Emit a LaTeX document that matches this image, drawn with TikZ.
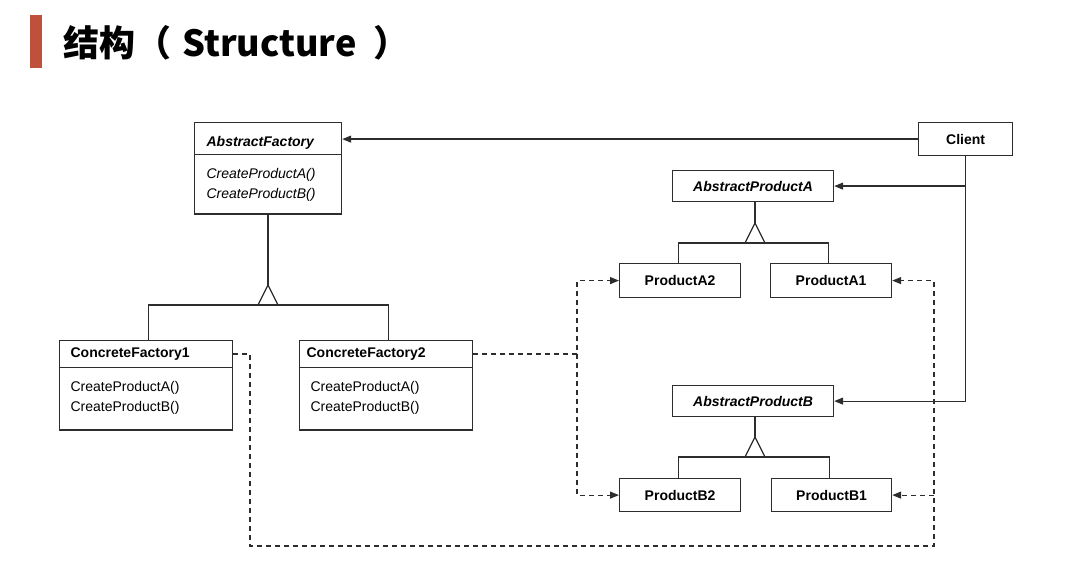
\documentclass[tikz,border=0pt]{standalone}
\usepackage{fontspec}
\setmainfont{Liberation Sans}
\newfontfamily\cjk{Noto Sans CJK SC}
\usetikzlibrary{shapes.multipart,arrows.meta}

\definecolor{titlered}{RGB}{190,80,60}
\definecolor{umlgray}{RGB}{45,45,45}
\newcommand{\vpad}[2]{\rule[-#2pt]{0pt}{\dimexpr#1pt+#2pt\relax}}

\tikzset{
  classbox/.style={draw=umlgray, line width=1.2pt, rectangle split, rectangle split parts=2,
    anchor=north west, inner ysep=0pt, align=left, font=\fontsize{14}{20}\selectfont},
  namebox/.style={draw=umlgray, line width=1.2pt, anchor=north west, inner sep=0pt,
    font=\fontsize{14}{17}\selectfont\bfseries},
  gen/.style={draw=umlgray, line width=1.2pt},
  assoc/.style={gen, -{Triangle[length=9pt,width=7pt]}},
  dep/.style={assoc, dash pattern=on 5pt off 4pt},
}

\begin{document}
\begin{tikzpicture}[x=1pt,y=-1pt]
    \pgfmathsetmacro{\trih}{20}
    \pgfmathsetmacro{\trihw}{10}
    \useasboundingbox (0,0) rectangle (1081,569);
    % title
    \fill[titlered] (30,15) rectangle (42,68);
    \node[anchor=base west, inner sep=0pt, font=\cjk\bfseries] (title) at (63,57)
    {{\fontsize{36}{40}\selectfont 结构（}\hspace{11pt}{\fontsize{36}{40}\selectfont Structure}\hspace{17pt}{\fontsize{36}{40}\selectfont ）}};
    % factories
    \node[classbox, inner xsep=12pt, text width=123pt] (af) at (194,122)
    {\vpad{23}{8}\textbf{\textit{AbstractFactory}}
     \nodepart{two}\vpad{23}{0}\textit{CreateProductA()}\\\textit{CreateProductB()}\vpad{0}{15}};
    \node[classbox, inner xsep=11pt, text width=151pt] (cf1) at (59,340)
    {\vpad{16}{10}\textbf{ConcreteFactory1}
     \nodepart{two}\vpad{23}{0}CreateProductA()\\CreateProductB()\vpad{0}{18}};
    \node[classbox, inner xsep=7pt, text width=159pt] (cf2) at (299,340)
    {\vpad{16}{10}\textbf{ConcreteFactory2}
     \nodepart{two}\vpad{23}{0}\hspace*{4pt}CreateProductA()\\\hspace*{4pt}CreateProductB()\vpad{0}{18}};
    % client and products
    \node[namebox, minimum width=94pt, minimum height=33pt] (client) at (918,122) {Client};
    \node[namebox, minimum width=161pt, minimum height=31pt] (apa) at (672,170) {\textit{AbstractProductA}};
    \node[namebox, minimum width=121pt, minimum height=34pt] (pa2) at (619,263) {ProductA2};
    \node[namebox, minimum width=121pt, minimum height=34pt] (pa1) at (770,263) {ProductA1};
    \node[namebox, minimum width=161pt, minimum height=31pt] (apb) at (672,385) {\textit{AbstractProductB}};
    \node[namebox, minimum width=121pt, minimum height=33pt] (pb2) at (619,478) {ProductB2};
    \node[namebox, minimum width=120pt, minimum height=33pt] (pb1) at (771,478) {ProductB1};
    % inheritance
    \coordinate (fj) at (268,305);
    \coordinate (aj) at (755,243);
    \coordinate (bj) at (755,457);
    \foreach \base/\subl/\subr/\j/\dl/\dr in {af/cf1/cf2/fj/2.5/2.5, apa/pa2/pa1/aj/-1.5/-2.5, apb/pb2/pb1/bj/-1.5/-2.5}{
        \draw[gen] (\j |- \base.south) -- ([yshift=\trih pt]\j);
        \draw[gen] ([xshift=-\trihw pt]\j) -- ([yshift=\trih pt]\j) -- ([xshift=\trihw pt]\j);
        \draw[gen] ([xshift=\dl pt]\subl.north) -- ([xshift=\dl pt]\subl.north |- \j)
            -- ([xshift=\dr pt]\subr.north |- \j) -- ([xshift=\dr pt]\subr.north);
    }
    % client associations
    \draw[assoc] (client.west) -- (client.west -| af.east);
    \draw[assoc] (client.south) |- (apa.east);
    \draw[assoc] (client.south) |- (apb.east);
    % creates
    \coordinate (dl) at (250,546);
    \coordinate (dr) at (934,546);
    \coordinate (dm) at (577,354);
    \draw[dep] ([yshift=-14pt]cf1.north east) -| (dl) -- (dr) |- (pa1.east);
    \draw[dep] (dr |- pb1.east) -- (pb1.east);
    \draw[dep] ([yshift=-14pt]cf2.north east) -- (dm) |- (pa2.west);
    \draw[dep] (dm) |- (pb2.west);
\end{tikzpicture}
\end{document}
